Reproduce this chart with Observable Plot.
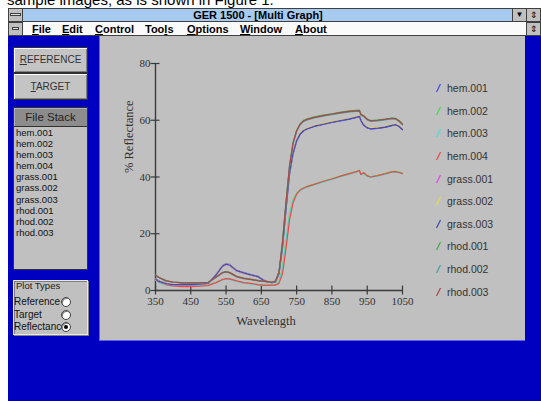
<!DOCTYPE html>
<html><head><meta charset="utf-8">
<script src="https://cdn.jsdelivr.net/npm/d3@7"></script>
<script src="https://cdn.jsdelivr.net/npm/@observablehq/plot@0.6"></script>
<style>
html,body{margin:0;padding:0;}
body{width:541px;height:401px;overflow:hidden;background:#fff;position:relative;font-family:"Liberation Sans",Arial,sans-serif;}
.a{position:absolute;box-sizing:border-box;}
#doc{left:7px;top:-8px;font-size:15px;line-height:15px;white-space:nowrap;color:#000;}
#titlebar{left:8px;top:8px;width:533px;height:14px;background:#a6caf0;border-top:1px solid #404040;border-bottom:1px solid #404040;}
#menubar{left:8px;top:22px;width:533px;height:14px;background:#fafafa;border-bottom:1px solid #404040;}
.gbtn{background:#c0c0c0;border:1px solid #404040;}
#blue{left:8px;top:36px;width:533px;height:365px;background:#0000c0;}
.menu{font-weight:bold;font-size:11px;top:23px;line-height:12px;color:#000;white-space:nowrap;}
.btn{left:13px;width:75px;background:#c4c4c4;border:1px solid #303030;box-shadow:inset 1px 1px 0 #fff, inset -1px -1px 0 #808080;font-size:10px;color:#333;text-align:center;}
#panel{left:99px;top:36px;width:426px;height:305px;background:#c0c0c0;border-left:1px solid #6060e0;border-bottom:1px solid #6060e0;}
.leg{font-size:10.5px;color:#333;white-space:nowrap;}
</style>
</head><body>
<div class="a" id="doc">sample images, as is shown in Figure 1.</div>
<div class="a" id="titlebar"></div>
<div class="a gbtn" style="left:8px;top:8px;width:15px;height:14px;"></div>
<div class="a" style="left:10px;top:13px;width:11px;height:3px;background:#e0e0e0;border:1px solid #404040;"></div>
<div class="a" style="left:178px;top:9px;width:160px;font-size:11px;font-weight:bold;text-align:center;line-height:12px;color:#000;white-space:nowrap;">GER 1500 - [Multi Graph]</div>
<div class="a gbtn" style="left:512px;top:8px;width:15px;height:14px;font-size:8px;text-align:center;line-height:12px;">▼</div>
<div class="a gbtn" style="left:526px;top:8px;width:15px;height:14px;font-size:9px;text-align:center;line-height:12px;">⇕</div>
<div class="a" id="menubar"></div>
<div class="a gbtn" style="left:8px;top:22px;width:15px;height:14px;"></div>
<div class="a" style="left:12px;top:27px;width:7px;height:3px;background:#e0e0e0;border:1px solid #404040;"></div>
<div class="a gbtn" style="left:526px;top:22px;width:15px;height:14px;font-size:9px;text-align:center;line-height:12px;">⇕</div>
<div class="a menu" style="left:32px;"><u>F</u>ile</div>
<div class="a menu" style="left:62px;"><u>E</u>dit</div>
<div class="a menu" style="left:95px;"><u>C</u>ontrol</div>
<div class="a menu" style="left:145px;">Too<u>l</u>s</div>
<div class="a menu" style="left:187px;"><u>O</u>ptions</div>
<div class="a menu" style="left:240px;"><u>W</u>indow</div>
<div class="a menu" style="left:295px;"><u>A</u>bout</div>
<div class="a" id="blue"></div>
<div class="a btn" style="top:47px;height:26px;line-height:24px;"><u>R</u>EFERENCE</div>
<div class="a btn" style="top:73px;height:27px;line-height:25px;"><u>T</u>ARGET</div>
<div class="a" style="left:13px;top:107px;width:75px;height:20px;background:#8c8c8c;border:1px solid #303030;box-shadow:inset 1px 1px 0 #b0b0b0;font-size:11.5px;color:#222;text-align:center;line-height:18px;">File Stack</div>
<div class="a" id="list" style="left:13px;top:126px;width:75px;height:144px;background:#c0c0c0;border:1px solid #303030;padding:0 0 0 2px;font-size:9.5px;line-height:11.1px;color:#111;"></div>
<div class="a" style="left:13px;top:280px;width:75px;height:55px;background:#c0c0c0;border:1px solid #e8e8e8;box-shadow:inset 1px 1px 0 #808080, 1px 1px 0 #808080;"></div>
<div class="a" style="left:16px;top:280px;font-size:9.5px;color:#222;line-height:11px;">Plot Types</div>
<div class="a" id="radios"></div>
<div class="a" id="panel"></div>
<div class="a" id="chart" style="left:99px;top:36px;"></div>
<div class="a" id="legend" style="left:0;top:0;"></div>
<script>
// ---- data ----
const wavelengths = [350,360,380,400,425,450,475,500,520,540,550,560,580,600,620,640,660,680,690,700,710,720,730,740,750,760,770,780,800,825,850,875,900,920,928,932,940,950,960,980,1000,1020,1030,1040,1050];
const seriesNames = ["hem.001","hem.002","hem.003","hem.004","grass.001","grass.002","grass.003","rhod.001","rhod.002","rhod.003"];
const seriesColors = ["#4a4af0","#48d848","#48dcdc","#f04848","#e048e0","#e0e048","#4848b0","#48a848","#48a0a0","#a84848"];
const hem001   = [4.3,3.3,2.4,2.0,2.1,2.0,2.2,2.7,5.3,8.8,9.5,9.2,7.1,6.3,5.6,5.0,3.4,2.8,3.0,5.8,15.2,28.6,41.0,48.2,52.6,55.0,56.3,56.9,57.8,58.5,59.2,59.8,60.4,61.0,61.3,59.9,58.2,57.3,56.9,57.1,57.5,58.1,58.4,57.8,56.6];
const hem002   = [3.8,2.9,2.1,1.7,1.6,1.6,1.7,2.0,2.8,3.8,4.1,4.0,3.3,2.7,2.4,2.1,1.9,1.9,2.0,3.0,8.0,17.5,27.0,32.0,34.3,35.5,36.2,36.7,37.5,38.5,39.4,40.4,41.3,42.0,42.4,41.0,41.6,40.5,40.1,40.6,41.2,41.9,42.0,41.7,41.4];
const hem003   = [3.7,2.8,2.0,1.6,1.5,1.5,1.6,1.9,2.7,3.7,4.0,3.9,3.2,2.6,2.3,2.0,1.8,1.8,1.9,2.8,7.5,17.0,26.5,31.6,34.0,35.2,35.9,36.4,37.2,38.2,39.1,40.1,41.0,41.7,42.1,40.7,41.3,40.2,39.8,40.3,40.9,41.6,41.7,41.4,41.1];
const hem004   = [3.9,3.0,2.1,1.6,1.4,1.4,1.5,1.8,2.7,3.9,4.2,4.1,3.4,2.8,2.5,2.1,1.8,1.9,1.9,2.5,6.0,15.0,25.0,31.0,34.0,35.4,36.1,36.6,37.4,38.4,39.3,40.3,41.2,41.9,42.3,40.9,41.5,40.4,40.0,40.5,41.1,41.8,41.9,41.6,41.2];
const grass001 = [4.0,3.1,2.3,2.0,2.0,2.0,2.1,2.6,5.1,8.5,9.2,8.9,6.9,6.1,5.4,4.8,3.3,2.8,3.1,6.1,15.8,29.3,41.8,48.7,53.0,55.3,56.5,57.1,58.0,58.7,59.4,60.0,60.6,61.2,61.5,60.1,58.4,57.5,57.1,57.3,57.7,58.3,58.6,58.0,56.9];
const grass002 = [4.2,3.2,2.4,2.1,2.1,2.1,2.2,2.7,5.2,8.7,9.4,9.1,7.0,6.2,5.5,4.9,3.3,2.8,3.1,6.0,15.6,29.1,41.6,48.6,52.9,55.4,56.6,57.2,58.1,58.8,59.5,60.1,60.7,61.3,61.6,60.2,58.5,57.6,57.2,57.4,57.8,58.4,58.7,58.1,57.0];
const grass003 = [4.1,3.2,2.4,2.1,2.1,2.1,2.2,2.6,5.2,8.6,9.3,9.0,7.0,6.2,5.5,4.9,3.3,2.8,3.1,6.0,15.5,29.0,41.5,48.5,52.8,55.2,56.4,57.0,57.9,58.6,59.3,59.9,60.5,61.1,61.4,60.0,58.3,57.4,57.0,57.2,57.6,58.2,58.5,57.9,56.8];
const rhod001  = [5.5,4.6,3.5,3.0,2.8,2.7,2.7,2.9,4.6,6.4,6.7,6.4,5.0,4.4,4.0,3.6,3.2,3.0,3.3,6.6,17.3,31.4,44.3,52.2,56.5,58.8,60.0,60.5,61.2,61.8,62.3,62.9,63.3,63.5,63.6,62.2,61.6,60.4,59.9,60.1,60.4,60.8,60.7,59.9,58.7];
const rhod002  = [5.3,4.5,3.3,2.9,2.6,2.6,2.6,2.8,4.5,6.2,6.5,6.2,4.8,4.2,3.8,3.4,3.1,2.8,3.2,6.4,16.8,30.8,43.8,51.8,56.1,58.4,59.6,60.1,60.8,61.4,62.0,62.5,62.9,63.1,63.2,61.8,61.3,60.1,59.6,59.8,60.1,60.5,60.4,59.6,58.4];
const rhod003  = [5.4,4.6,3.4,3.0,2.7,2.7,2.7,2.9,4.6,6.3,6.6,6.3,4.9,4.3,3.9,3.5,3.2,2.9,3.3,6.5,17.0,31.0,44.0,52.0,56.3,58.6,59.8,60.3,61.0,61.6,62.2,62.7,63.1,63.3,63.4,62.0,61.5,60.3,59.8,60.0,60.3,60.7,60.6,59.8,58.6];
const seriesValues = [hem001,hem002,hem003,hem004,grass001,grass002,grass003,rhod001,rhod002,rhod003];
const xTicks = [350,450,550,650,750,850,950,1050];
const yTicks = [0,20,40,60,80];
const plotTypes = ["Reference","Target","Reflectance"];
const selectedPlotType = "Reflectance";

// ---- chart ----
const rows = seriesNames.flatMap((name, i) => wavelengths.map((w, j) => ({name, wavelength: w, reflectance: seriesValues[i][j]})));
const axisColor = "#3a3a3a";
const chart = Plot.plot({
  width: 426, height: 305,
  marginLeft: 56, marginRight: 123, marginTop: 27, marginBottom: 51,
  style: {background: "transparent", fontFamily: "'Liberation Serif','Times New Roman',serif", fontSize: "11px", color: "#303030"},
  x: {domain: [350, 1050]},
  y: {domain: [0, 80]},
  color: {domain: seriesNames, range: seriesColors},
  marks: [
    Plot.axisX({ticks: xTicks, tickSize: 9, dy: -4.5, fill: "none", label: null, stroke: axisColor, strokeWidth: 1.2}),
    Plot.axisX({ticks: xTicks, tickSize: 0, tickPadding: 7, tickFormat: d => String(d), label: null, fill: "#303030"}),
    Plot.axisY({ticks: yTicks, tickSize: 9, dx: 4.5, fill: "none", label: null, stroke: axisColor, strokeWidth: 1.2}),
    Plot.axisY({ticks: yTicks, tickSize: 0, tickPadding: 5, tickFormat: d => String(d), label: null, fill: "#303030"}),
    Plot.ruleX([350], {stroke: axisColor, strokeWidth: 1.4}),
    Plot.ruleY([0], {stroke: axisColor, strokeWidth: 1.4}),
    Plot.line(rows, {x: "wavelength", y: "reflectance", z: "name", stroke: "name", strokeWidth: 1.2}),
    Plot.text(["Wavelength"], {frameAnchor: "bottom", dy: 34, dx: -13, fontSize: 12.5, fill: "#303030"}),
    Plot.text(["% Reflectance"], {frameAnchor: "left", rotate: -90, dx: -27, dy: -4, fontSize: 12.5, fill: "#303030"})
  ]
});
document.getElementById("chart").appendChild(chart);

// ---- legend ----
const legend = document.getElementById("legend");
seriesNames.forEach((name, i) => {
  const y = 88 + 22.6 * i;
  const item = document.createElement("div");
  item.className = "a leg";
  item.style.left = "435px";
  item.style.top = (y - 7) + "px";
  item.innerHTML = `<svg width="8" height="12" style="vertical-align:middle"><line x1="1.5" y1="10" x2="5.5" y2="2" stroke="${seriesColors[i]}" stroke-width="1.3"/></svg><span style="margin-left:4px;vertical-align:middle">${name}</span>`;
  legend.appendChild(item);
});

// ---- file list ----
document.getElementById("list").innerHTML = seriesNames.map(n => `<div>${n}</div>`).join("");

// ---- radios ----
const radios = document.getElementById("radios");
plotTypes.forEach((t, i) => {
  const y = 302 + 12.5 * i;
  const lab = document.createElement("div");
  lab.className = "a";
  lab.style.cssText = `left:14px;top:${y - 6}px;font-size:10px;line-height:12px;color:#111;white-space:nowrap;`;
  lab.textContent = t;
  radios.appendChild(lab);
  const c = document.createElement("div");
  c.className = "a";
  const sel = t === selectedPlotType;
  c.style.cssText = `left:61px;top:${y - 5}px;width:10px;height:10px;border-radius:50%;background:#fff;border:1px solid #404040;box-shadow:inset 1px 1px 0 #808080;`;
  if (sel) c.innerHTML = `<div style="position:absolute;left:2px;top:2px;width:4px;height:4px;border-radius:50%;background:#000"></div>`;
  radios.appendChild(c);
});
</script>
</body></html>
